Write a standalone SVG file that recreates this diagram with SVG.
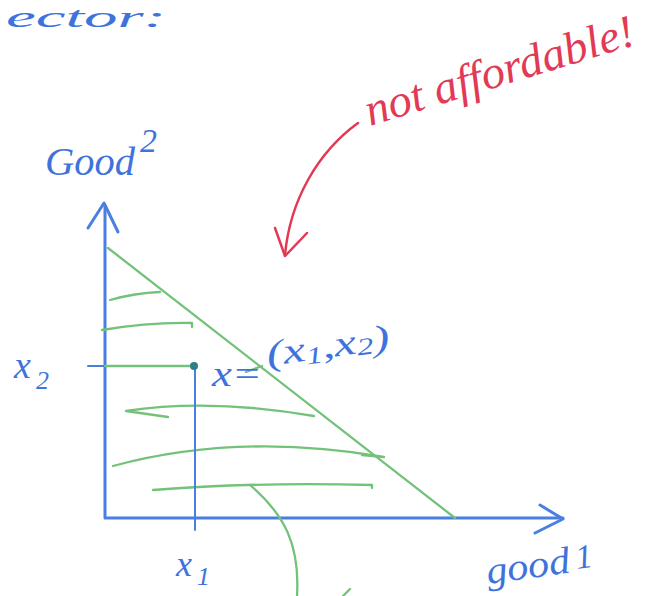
<svg xmlns="http://www.w3.org/2000/svg" width="649" height="596" viewBox="0 0 649 596">
<style>
.b{fill:#3f73dc;font-family:"Liberation Serif",serif;font-style:italic}
.r{fill:#e23a55;font-family:"Liberation Serif",serif;font-style:italic}
.ax{stroke:#4a7ee0;stroke-width:3;fill:none;stroke-linecap:round;stroke-linejoin:round}
.bl{stroke:#4a7ee0;stroke-width:2;fill:none;stroke-linecap:round}
.g{stroke:#72c27a;stroke-width:2.3;fill:none;stroke-linecap:round;stroke-linejoin:round}
.rd{stroke:#e23a55;stroke-width:2.5;fill:none;stroke-linecap:round;stroke-linejoin:round}
</style>
<rect width="649" height="596" fill="#fff"/>
<g id="title"><text class="b" x="6" y="27" font-size="30" textLength="160" lengthAdjust="spacingAndGlyphs">ector:</text></g>
<g id="not-affordable">
<text class="r" transform="translate(370,126) rotate(-17)" font-size="46" textLength="280" lengthAdjust="spacingAndGlyphs">not affordable!</text>
</g>
<g id="axes">
<path class="ax" d="M105,206 L105,518 L563,518"/>
<path class="ax" d="M88,228 L104,203 L118,232"/>
<path class="ax" d="M540,505 L563,519 L535,533"/>
<text class="b" x="45" y="175" font-size="40" textLength="90" lengthAdjust="spacingAndGlyphs">Good</text>
<text class="b" x="140" y="152" font-size="34">2</text>
<text class="b" transform="translate(488,584) rotate(-8)" font-size="38" textLength="84" lengthAdjust="spacingAndGlyphs">good</text>
<text class="b" transform="translate(577,569) rotate(-8)" font-size="34">1</text>
</g>
<g id="feasible-set">
<path class="g" d="M108,248 L455,518"/>
<path class="g" d="M110,300 Q135,293 160,292"/>
<path class="g" d="M102,330 Q150,322 192,323 l0,4"/>
<path class="g" d="M168,417 L126,411 Q210,398 314,416"/>
<path class="g" d="M113,466 Q240,432 384,457 M362,455 L384,457"/>
<path class="g" d="M153,490 Q250,482 372,485 l0,3"/>
</g>
<g id="point">
<path class="bl" d="M88,366 L193,366"/>
<path class="g" d="M105,366 L193,366" stroke-width="3"/>
<path class="bl" d="M195,366 L195,530"/>
<circle cx="194" cy="366" r="4" fill="#2e7f86"/>
<path class="g" d="M246,372 L262,366"/>
<text class="b" x="14" y="378" font-size="38">x</text>
<text class="b" x="36" y="389" font-size="26">2</text>
<text class="b" x="212" y="386" font-size="36" textLength="50" lengthAdjust="spacingAndGlyphs">x=</text>
<text class="b" transform="translate(268,366) rotate(-8)" font-size="36" textLength="124" lengthAdjust="spacingAndGlyphs">(x<tspan font-size="24" dy="4">1</tspan><tspan dy="-4">,x</tspan><tspan font-size="24" dy="2">2</tspan><tspan dy="-2">)</tspan></text>
<text class="b" x="176" y="576" font-size="36">x</text>
<text class="b" x="197" y="585" font-size="26">1</text>
</g>
<g id="connectors">
<path class="rd" d="M358,123 C318,152 290,200 285,255"/>
<path class="rd" d="M275,228 L285,256 L307,233"/>
<path class="g" d="M250,485 C285,515 300,545 297,596"/>
<path class="g" d="M343,596 L350,589"/>
</g>
</svg>
